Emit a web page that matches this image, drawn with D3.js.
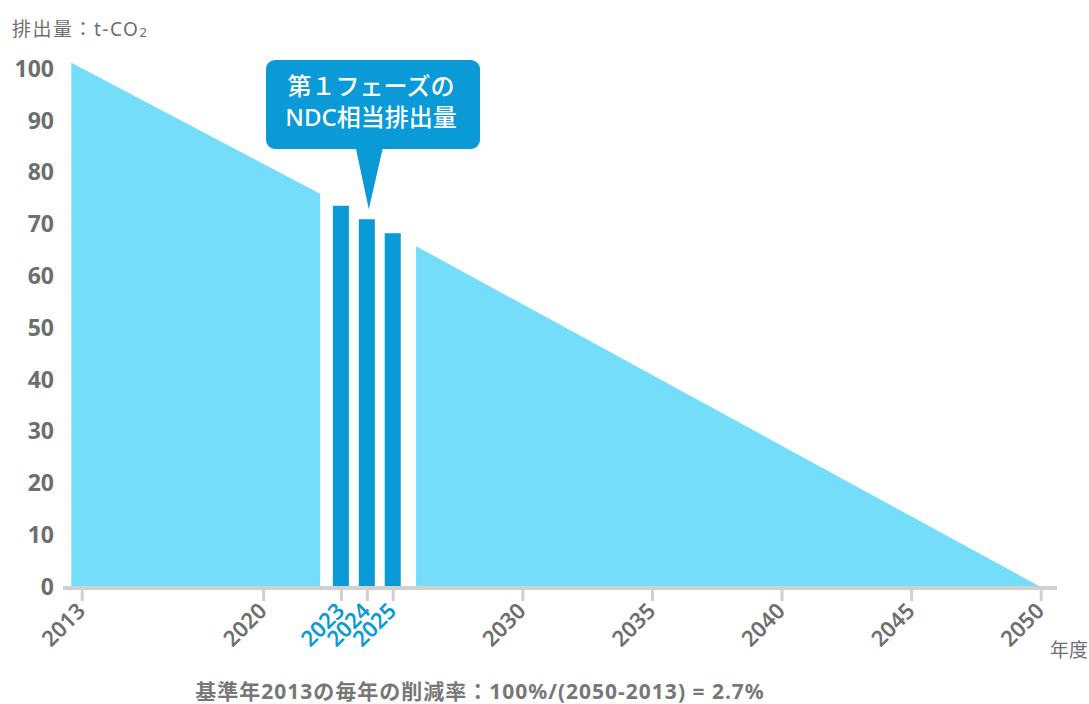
<!DOCTYPE html>
<html>
<head>
<meta charset="utf-8">
<script src="https://cdn.jsdelivr.net/npm/d3@7/dist/d3.min.js"></script>
<style>
  body { margin: 0; background: #fff; }
  text { font-family: "Noto Sans", "Noto Sans CJK JP", sans-serif; }
</style>
</head>
<body>
<svg id="chart" width="1089" height="704"></svg>
<script>
// values
var tickYears = [2013, 2020, 2023, 2024, 2025, 2030, 2035, 2040, 2045, 2050];
var phaseYears = [2023, 2024, 2025];
var phaseValues = [73.6, 71.0, 68.3];
var areaBefore = [{year: 2012.6, value: 101.2}, {year: 2022.2, value: 75.9}];
var areaAfter = [{year: 2025.9, value: 65.8}, {year: 2050, value: 0}];
var yTicks = [0, 10, 20, 30, 40, 50, 60, 70, 80, 90, 100];

var svg = d3.select('#chart');
var light = '#74ddfa', dark = '#099ad7', grey = '#6e6e6e';

var x = d3.scaleLinear().domain([2013, 2050]).range([81.7, 1040.7]);
var y = d3.scaleLinear().domain([0, 100]).range([587, 69]);

// emission area
var area = d3.area()
    .x(function(d){ return x(d.year); })
    .y0(y(0))
    .y1(function(d){ return y(d.value); });

svg.selectAll('.area').data([areaBefore, areaAfter]).enter().append('path')
    .attr('class', 'area')
    .attr('d', area)
    .attr('fill', light);

// phase 1 bars
var barW = 16;
svg.selectAll('.bar').data(phaseYears).enter().append('rect')
    .attr('class', 'bar')
    .attr('x', function(d){ return x(d) - barW / 2; })
    .attr('y', function(d, i){ return y(phaseValues[i]); })
    .attr('width', barW)
    .attr('height', function(d, i){ return y(0) - y(phaseValues[i]); })
    .attr('fill', dark);

// x axis
var axisX = d3.axisBottom(x)
    .tickValues(tickYears)
    .tickSize(13)
    .tickFormat(d3.format('d'));

var gx = svg.append('g')
    .attr('class', 'xAxis')
    .attr('transform', 'translate(0,' + (y(0) + 1) + ')')
    .call(axisX);
gx.select('.domain').remove();
gx.selectAll('.tick line').attr('stroke', '#d0d0d0').attr('stroke-width', 3);
gx.selectAll('.tick text')
    .attr('x', 0).attr('y', 0)
    .attr('dy', '0.35em')
    .attr('text-anchor', 'end')
    .attr('transform', 'translate(-1,19) rotate(-45)')
    .attr('font-size', 22)
    .attr('font-weight', 600)
    .attr('fill', function(d){ return phaseYears.indexOf(d) >= 0 ? dark : grey; });

svg.append('line')
    .attr('x1', 63).attr('x2', 1057)
    .attr('y1', y(0) + 1).attr('y2', y(0) + 1)
    .attr('stroke', '#d0d0d0')
    .attr('stroke-width', 4);

// y axis
var axisY = d3.axisLeft(y).tickValues(yTicks).tickSize(0);
var gy = svg.append('g')
    .attr('class', 'yAxis')
    .attr('transform', 'translate(54,0)')
    .call(axisY);
gy.select('.domain').remove();
gy.selectAll('.tick text')
    .attr('x', 0)
    .attr('font-size', 23)
    .attr('font-weight', 700)
    .attr('fill', grey);

// axis titles
var yt = svg.append('text')
    .attr('x', 12).attr('y', 36)
    .attr('font-size', 19)
    .attr('letter-spacing', 1.5)
    .attr('fill', grey)
    .text('排出量：t-CO');
yt.append('tspan').attr('font-size', 13).attr('dy', 1).text('2');

svg.append('text')
    .attr('x', 1088).attr('y', 657)
    .attr('text-anchor', 'end')
    .attr('font-size', 19)
    .attr('fill', grey)
    .text('年度');

// callout
var tipX = x(2024) + 2, tipY = y(phaseValues[1]) - 10;
var call = svg.append('g').attr('class', 'callout');
call.append('rect')
    .attr('x', 266).attr('y', 60)
    .attr('width', 214).attr('height', 89)
    .attr('rx', 9)
    .attr('fill', dark);
call.append('path')
    .attr('d', 'M' + (tipX - 13) + ',148 L' + (tipX + 14) + ',148 L' + tipX + ',' + tipY + 'Z')
    .attr('fill', dark);
call.selectAll('.lbl').data(['第１フェーズの', 'NDC相当排出量']).enter().append('text')
    .attr('class', 'lbl')
    .attr('x', 371)
    .attr('y', function(d, i){ return 95 + i * 31; })
    .attr('text-anchor', 'middle')
    .attr('font-size', 24)
    .attr('font-weight', 500)
    .attr('fill', '#fff')
    .text(function(d){ return d; });

// footnote
svg.append('text')
    .attr('x', 480).attr('y', 699)
    .attr('text-anchor', 'middle')
    .attr('font-size', 21)
    .attr('font-weight', 700)
    .attr('letter-spacing', 1)
    .attr('fill', '#777')
    .text('基準年2013の毎年の削減率：100%/(2050-2013) = 2.7%');
</script>
</body>
</html>
